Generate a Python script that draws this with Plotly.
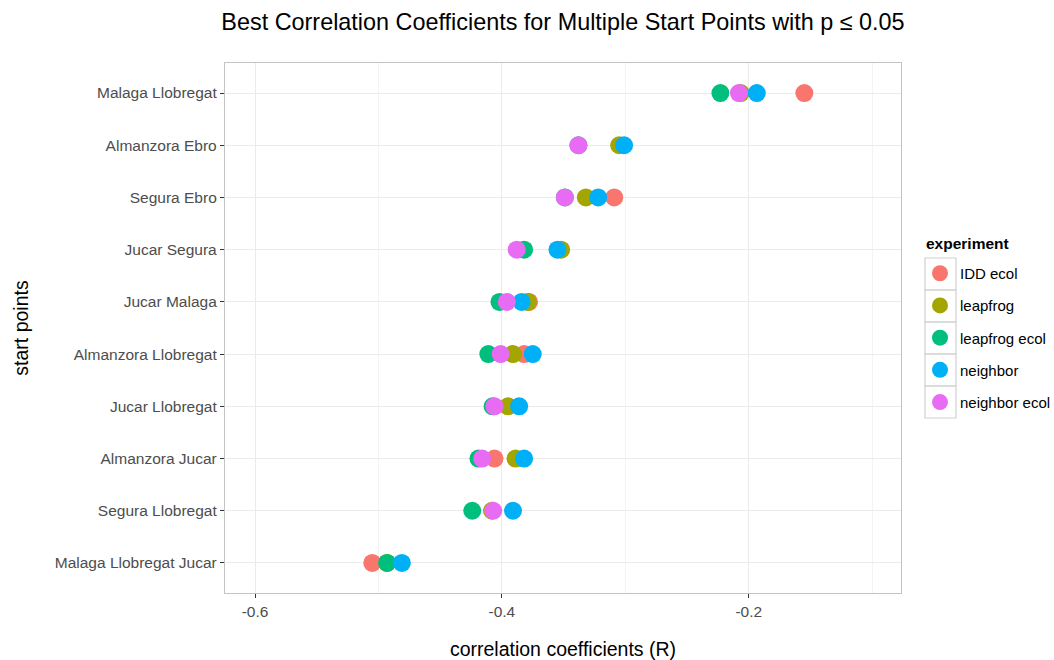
import plotly.graph_objects as go

categories = ["Malaga Llobregat Jucar", "Segura Llobregat", "Almanzora Jucar",
              "Jucar Llobregat", "Almanzora Llobregat", "Jucar Malaga",
              "Jucar Segura", "Segura Ebro", "Almanzora Ebro", "Malaga Llobregat"]

experiments = ["IDD ecol", "leapfrog", "leapfrog ecol", "neighbor", "neighbor ecol"]
colors = ["#F8766D", "#A3A500", "#00BF7D", "#00B0F6", "#E76BF3"]

idd_ecol_y = ["Malaga Llobregat", "Segura Ebro", "Jucar Malaga", "Almanzora Llobregat",
              "Almanzora Jucar", "Malaga Llobregat Jucar"]
idd_ecol_x = [-0.155, -0.309, -0.378, -0.382, -0.406, -0.505]

leapfrog_y = ["Malaga Llobregat", "Almanzora Ebro", "Segura Ebro", "Jucar Segura",
              "Jucar Malaga", "Almanzora Llobregat", "Jucar Llobregat", "Almanzora Jucar",
              "Segura Llobregat", "Malaga Llobregat Jucar"]
leapfrog_x = [-0.2065, -0.305, -0.332, -0.352, -0.379, -0.391, -0.395, -0.389, -0.408, -0.493]

leapfrog_ecol_y = ["Malaga Llobregat", "Almanzora Ebro", "Segura Ebro", "Jucar Segura",
                   "Jucar Malaga", "Almanzora Llobregat", "Jucar Llobregat", "Almanzora Jucar",
                   "Segura Llobregat", "Malaga Llobregat Jucar"]
leapfrog_ecol_x = [-0.223, -0.338, -0.349, -0.382, -0.402, -0.411, -0.4075, -0.419, -0.424, -0.493]

neighbor_y = ["Malaga Llobregat", "Almanzora Ebro", "Segura Ebro", "Jucar Segura",
              "Jucar Malaga", "Almanzora Llobregat", "Jucar Llobregat", "Almanzora Jucar",
              "Segura Llobregat", "Malaga Llobregat Jucar"]
neighbor_x = [-0.1935, -0.301, -0.322, -0.355, -0.384, -0.375, -0.386, -0.382, -0.391, -0.481]

neighbor_ecol_y = ["Malaga Llobregat", "Almanzora Ebro", "Segura Ebro", "Jucar Segura",
                   "Jucar Malaga", "Almanzora Llobregat", "Jucar Llobregat", "Almanzora Jucar",
                   "Segura Llobregat"]
neighbor_ecol_x = [-0.208, -0.338, -0.349, -0.388, -0.396, -0.401, -0.406, -0.416, -0.407]

series = [(idd_ecol_x, idd_ecol_y), (leapfrog_x, leapfrog_y), (leapfrog_ecol_x, leapfrog_ecol_y),
          (neighbor_x, neighbor_y), (neighbor_ecol_x, neighbor_ecol_y)]

x_ticks = [-0.6, -0.4, -0.2]
x_tick_labels = ["-0.6", "-0.4", "-0.2"]

fig = go.Figure()
for name, color, (xs, ys) in zip(experiments, colors, series):
    fig.add_trace(go.Scatter(
        x=xs, y=ys, mode="markers", name=name, legendgroup=name,
        marker=dict(color=color, size=18, line=dict(width=0)),
    ))

FW, FH = 1054, 660
L, W = 225, 676
T, H = 63, 530
def px_x(p):
    return (p - L) / W
def px_y(p):
    return (T + H - p) / H

# legend key boxes (ggplot style)
box_tops = [258, 290, 322, 354, 386]
shapes = []
for bt in box_tops:
    shapes.append(dict(type="rect", xref="paper", yref="paper",
                       x0=px_x(925), x1=px_x(956), y0=px_y(bt + 32), y1=px_y(bt),
                       line=dict(color="#d0d0d0", width=1.2), fillcolor="rgba(0,0,0,0)",
                       layer="below"))

annotations = [dict(text="<b>experiment</b>", xref="paper", yref="paper",
                    x=px_x(924), y=px_y(243), xanchor="left", yanchor="middle",
                    showarrow=False, font=dict(size=15.5, color="#000000"))]

fig.update_layout(
    width=FW, height=FH,
    margin=dict(l=L, r=FW - L - W, t=T, b=FH - T - H),
    paper_bgcolor="white", plot_bgcolor="white",
    font=dict(family="Liberation Sans, Arial, sans-serif", color="#000000"),
    title=dict(text="Best Correlation Coefficients for Multiple Start Points with p ≤ 0.05",
               x=0.5, xref="paper", xanchor="center", y=1 - 22 / FH, yanchor="middle",
               font=dict(size=23.4, color="#000000")),
    xaxis=dict(range=[-0.6243, -0.0767], tickvals=x_ticks, ticktext=x_tick_labels,
               showgrid=True, gridcolor="#ebebeb", gridwidth=1,
               minor=dict(tickvals=[-0.5, -0.3, -0.1], showgrid=True, gridcolor="#f3f3f3", gridwidth=0.7, ticks=""),
               zeroline=False, showline=True, mirror=True, linecolor="#c4c4c4", linewidth=1.3,
               ticks="outside", ticklen=4, tickcolor="#333333", tickwidth=1,
               tickfont=dict(size=15.5, color="#4d4d4d"), automargin=False,
               title=dict(text="correlation coefficients (R)", font=dict(size=19.5, color="#000000"), standoff=24)),
    yaxis=dict(type="category", categoryorder="array", categoryarray=categories,
               range=[-0.575, 9.575],
               showgrid=True, gridcolor="#ebebeb", gridwidth=1,
               zeroline=False, showline=True, mirror=True, linecolor="#c4c4c4", linewidth=1.3,
               ticks="outside", ticklen=4, tickcolor="#333333", tickwidth=1,
               tickfont=dict(size=15.5, color="#4d4d4d"), automargin=False,
               title=dict(text="start points", font=dict(size=19.5, color="#000000"), standoff=20)),
    showlegend=True,
    legend=dict(xref="container", yref="container",
                x=920 / FW, y=1 - 257 / FH, xanchor="left", yanchor="top",
                font=dict(size=15, color="#000000"), tracegroupgap=9.7,
                bgcolor="rgba(0,0,0,0)", itemsizing="trace"),
    shapes=shapes,
    annotations=annotations,
)

fig.write_html("out.html", post_script="document.body.style.margin='0';",
               config={"displayModeBar": False})
